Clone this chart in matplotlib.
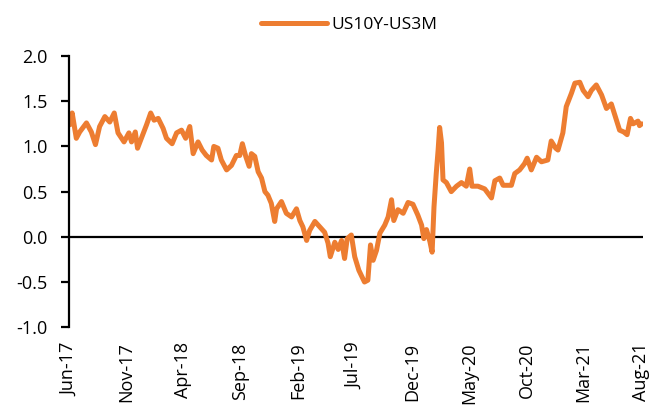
import matplotlib
matplotlib.use('Agg')
import matplotlib.pyplot as plt
import numpy as np
import pandas as pd

plt.rcParams['font.family'] = ['Open Sans', 'DejaVu Sans']

# spread US10Y - US3M
dates = ['2017-06-04', '2017-06-10', '2017-06-21', '2017-06-30', '2017-07-18', '2017-07-31',
         '2017-08-11', '2017-08-22', '2017-09-05', '2017-09-18', '2017-09-30', '2017-10-10',
         '2017-10-26', '2017-11-08', '2017-11-15', '2017-11-25', '2017-12-01', '2017-12-13',
         '2017-12-25', '2018-01-05', '2018-01-14', '2018-01-25', '2018-02-07', '2018-02-16',
         '2018-03-03', '2018-03-15', '2018-03-28', '2018-04-08', '2018-04-19', '2018-04-28',
         '2018-05-11', '2018-05-22', '2018-06-02', '2018-06-16', '2018-06-22', '2018-07-03',
         '2018-07-12', '2018-07-26', '2018-08-08', '2018-08-21', '2018-08-30', '2018-09-06',
         '2018-09-15', '2018-09-24', '2018-09-30', '2018-10-09', '2018-10-18', '2018-10-27',
         '2018-11-05', '2018-11-13', '2018-11-22', '2018-12-01', '2018-12-06', '2018-12-19',
         '2019-01-01', '2019-01-15', '2019-01-28', '2019-02-06', '2019-02-14', '2019-02-24',
         '2019-03-04', '2019-03-18', '2019-03-31', '2019-04-13', '2019-04-22', '2019-04-28',
         '2019-05-10', '2019-05-19', '2019-05-28', '2019-06-05', '2019-06-12', '2019-06-23',
         '2019-07-02', '2019-07-13', '2019-07-28', '2019-08-06', '2019-08-13', '2019-08-20',
         '2019-08-29', '2019-09-07', '2019-09-20', '2019-09-29', '2019-10-08', '2019-10-14',
         '2019-10-25', '2019-11-08', '2019-11-21', '2019-12-04', '2019-12-17', '2019-12-27',
         '2020-01-02', '2020-01-09', '2020-01-18', '2020-01-24', '2020-01-29', '2020-02-04',
         '2020-02-09', '2020-02-13', '2020-02-18', '2020-02-22', '2020-03-02', '2020-03-15',
         '2020-03-29', '2020-04-11', '2020-04-24', '2020-05-03', '2020-05-09', '2020-05-25',
         '2020-06-12', '2020-06-30', '2020-07-09', '2020-07-22', '2020-07-31', '2020-08-22',
         '2020-08-31', '2020-09-13', '2020-09-26', '2020-10-03', '2020-10-14', '2020-10-28',
         '2020-11-10', '2020-11-27', '2020-12-06', '2020-12-18', '2020-12-24', '2021-01-06',
         '2021-01-15', '2021-01-29', '2021-02-07', '2021-02-20', '2021-03-01', '2021-03-14',
         '2021-03-23', '2021-04-05', '2021-04-19', '2021-05-02', '2021-05-15', '2021-05-24',
         '2021-06-06', '2021-06-17', '2021-06-26', '2021-07-05', '2021-07-12', '2021-07-25',
         '2021-07-29', '2021-08-04']
spread = [1.24, 1.37, 1.09, 1.16, 1.26, 1.16,
          1.02, 1.22, 1.33, 1.27, 1.37, 1.15,
          1.05, 1.15, 1.05, 1.16, 0.98, 1.11,
          1.24, 1.37, 1.29, 1.31, 1.20, 1.09,
          1.03, 1.15, 1.18, 1.09, 1.22, 0.92,
          1.05, 0.96, 0.90, 0.85, 1.00, 0.98,
          0.85, 0.74, 0.79, 0.90, 0.90, 1.03,
          0.89, 0.78, 0.92, 0.89, 0.72, 0.65,
          0.50, 0.46, 0.37, 0.17, 0.31, 0.39,
          0.26, 0.22, 0.31, 0.18, 0.11, -0.04,
          0.07, 0.17, 0.11, 0.05, -0.07, -0.22,
          -0.06, -0.14, -0.04, -0.24, -0.02, 0.02,
          -0.22, -0.37, -0.50, -0.48, -0.09, -0.26,
          -0.15, 0.04, 0.13, 0.22, 0.41, 0.18,
          0.30, 0.26, 0.38, 0.36, 0.24, 0.13,
          -0.02, 0.08, -0.05, -0.17, 0.33, 0.70,
          0.96, 1.21, 1.04, 0.63, 0.60, 0.50,
          0.56, 0.60, 0.56, 0.75, 0.56, 0.56,
          0.53, 0.43, 0.62, 0.65, 0.57, 0.57,
          0.70, 0.74, 0.81, 0.87, 0.74, 0.88,
          0.83, 0.85, 1.06, 0.98, 0.96, 1.15,
          1.44, 1.59, 1.70, 1.71, 1.62, 1.55,
          1.62, 1.68, 1.57, 1.42, 1.47, 1.35,
          1.18, 1.16, 1.13, 1.31, 1.25, 1.28,
          1.23, 1.25]

tick_dates = ['2017-06-01', '2017-11-01', '2018-04-01', '2018-09-01', '2019-02-01', '2019-07-01',
              '2019-12-01', '2020-05-01', '2020-10-01', '2021-03-01', '2021-08-01']
tick_labels = ['Jun-17', 'Nov-17', 'Apr-18', 'Sep-18', 'Feb-19', 'Jul-19',
               'Dec-19', 'May-20', 'Oct-20', 'Mar-21', 'Aug-21']

x = pd.to_datetime(dates)
x_ticks = pd.to_datetime(tick_dates)

fig = plt.figure(figsize=(6.49, 4.09), dpi=100)
ax = fig.add_axes([0.106, 0.2, 0.884, 0.663])

ax.plot(x, spread, color='#ED7D31', linewidth=3.6, solid_joinstyle='round',
        solid_capstyle='round', label='US10Y-US3M')
ax.axhline(0, color='black', linewidth=1.6, zorder=1)

ax.set_ylim(-1.0, 2.0)
y_ticks = np.arange(-1.0, 2.01, 0.5)
ax.set_yticks(y_ticks)
ax.set_yticklabels(['%.1f' % v for v in y_ticks], fontsize=13)
ax.set_xlim(pd.Timestamp('2017-06-01'), pd.Timestamp('2021-08-06'))
ax.set_xticks(x_ticks)
ax.set_xticklabels(tick_labels, rotation=90, fontsize=13)

for side in ['top', 'right', 'bottom']:
    ax.spines[side].set_visible(False)
ax.spines['left'].set_linewidth(1.6)
ax.tick_params(axis='y', direction='out', length=6, width=1.6, pad=9)
ax.tick_params(axis='x', length=0, pad=11)

fig.legend(loc='center', bbox_to_anchor=(0.538, 0.939), frameon=False, fontsize=12.5,
           handlelength=3.8, handletextpad=0.3)

plt.savefig('out.png', dpi=100)
